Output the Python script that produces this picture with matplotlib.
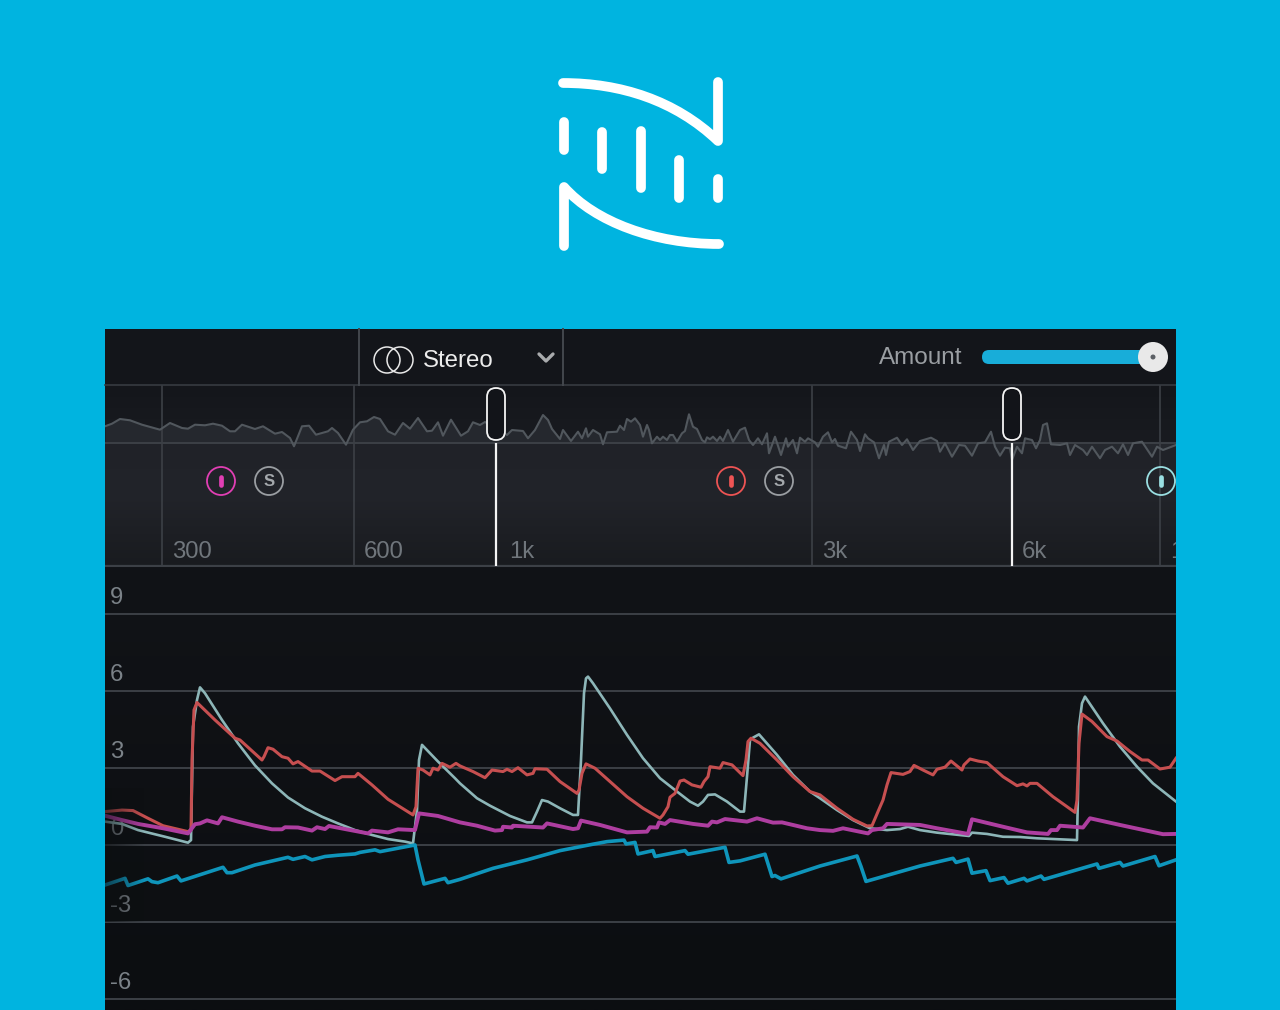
# Dynamic EQ style view: logo, band spectrum and gain reduction traces

import numpy as np
import matplotlib.pyplot as plt
from matplotlib.patches import Circle, FancyBboxPatch, PathPatch, Rectangle
from matplotlib.path import Path
from matplotlib.transforms import ScaledTranslation

# gain traces, t is time along the display
pale_t = [0, 17, 33, 60, 83, 86, 88, 92, 95, 100, 117, 133, 150, 167, 183, 200, 217, 233, 250, 267, 283, 300, 308, 312, 314, 317, 333, 350, 355,
          372, 385, 405, 422, 427, 432, 437, 443, 455, 468, 473, 476, 479, 481, 483, 488, 505, 522, 538, 555, 572, 585, 593, 598, 603, 610, 622, 635, 639, 642, 645, 648, 654, 672, 688, 705, 715,
          732, 748, 765, 782, 795, 803, 815, 832, 864, 867, 882, 898, 915, 932, 972, 973, 974, 977, 980, 998, 1015, 1032, 1048, 1071]
pale_db = [0.91, 0.82, 0.58, 0.32, 0.09, 0.19, 4.61, 5.65, 6.14, 5.91, 4.87, 3.96, 3.10, 2.40, 1.85, 1.43, 1.10, 0.84, 0.58, 0.39, 0.23, 0.13, 0.06, 1.36, 3.31, 3.90, 3.25, 2.60, 2.40,
           1.82, 1.53, 1.13, 0.88, 0.88, 1.30, 1.75, 1.69, 1.43, 1.17, 1.17, 3.31, 5.91, 6.49, 6.56, 6.30, 5.32, 4.29, 3.38, 2.60, 2.08, 1.69, 1.53, 1.69, 1.95, 1.97, 1.69, 1.30, 1.30, 2.66, 4.09, 4.18, 4.31, 3.51, 2.73, 2.08, 1.82,
           1.36, 0.97, 0.65, 0.58, 0.62, 0.71, 0.58, 0.48, 0.35, 0.48, 0.43, 0.32, 0.31, 0.26, 0.19, 2.01, 4.61, 5.52, 5.78, 4.74, 3.83, 3.05, 2.40, 1.69]

red_t = [0, 17, 28, 43, 58, 83, 86, 87, 89, 92, 110, 130, 135, 157, 159, 163, 168, 177, 183, 188, 193, 207, 215, 230, 237, 250, 253, 267, 283, 308, 311, 313, 318, 325, 328, 333, 337, 345, 351,
         355, 368, 380, 387, 398, 402, 407, 413, 422, 428, 430, 442, 455, 472, 474, 477, 481, 490, 505, 522, 538, 555, 558, 563, 565, 570, 575, 579, 587, 596, 599, 603, 605, 615, 618, 627, 638, 641, 643, 646, 655, 672, 688, 705,
         715, 732, 748, 762, 767, 773, 778, 782, 786, 798, 805, 809, 818, 828, 832, 840, 846, 857, 859, 865, 873, 882, 898, 912, 918, 922, 925, 932, 948, 970, 972, 974, 977, 987, 1002, 1012, 1025, 1037, 1043, 1055, 1065, 1071]
red_db = [1.30, 1.36, 1.34, 1.04, 0.75, 0.52, 0.58, 3.31, 5.26, 5.55, 4.87, 4.16, 4.09, 3.31, 3.44, 3.79, 3.73, 3.44, 3.38, 3.16, 3.25, 2.88, 2.88, 2.51, 2.66, 2.66, 2.79, 2.34, 1.78, 1.17, 1.49, 2.99, 2.92, 2.73, 2.99, 2.92, 3.18, 3.03, 3.18,
          3.08, 2.86, 2.62, 2.92, 2.86, 2.95, 2.86, 3.01, 2.73, 2.79, 2.97, 2.95, 2.47, 2.01, 2.14, 2.79, 3.16, 2.99, 2.47, 1.88, 1.43, 1.04, 1.17, 1.49, 1.86, 2.01, 2.49, 2.53, 2.34, 2.25, 2.47, 2.66, 3.05, 2.99, 3.21, 3.12, 2.70, 3.31, 4.03, 4.16, 3.96, 3.31, 2.66, 2.08,
          1.95, 1.43, 1.00, 0.74, 0.75, 1.30, 1.75, 2.34, 2.82, 2.75, 2.86, 3.10, 2.92, 2.73, 2.95, 3.03, 3.27, 2.92, 3.12, 3.35, 3.27, 3.21, 2.66, 2.31, 2.38, 2.30, 2.40, 2.40, 1.88, 1.27, 1.75, 3.96, 5.10, 4.81, 4.22, 4.05, 3.64, 3.31, 3.31, 2.96, 3.03, 3.38]

magenta_t = [0, 17, 33, 58, 83, 90, 95, 102, 113, 117, 133, 150, 167, 177, 180, 193, 207, 212, 220, 224, 240, 263, 267, 283, 293, 310, 314, 333,
             355, 372, 390, 397, 398, 407, 408, 438, 442, 468, 473, 476, 495, 522, 542, 545, 552, 554, 560, 565, 588, 603, 607, 612, 620, 642, 652, 668, 677, 702,
             715, 728, 738, 763, 767, 778, 782, 815, 832, 863, 867, 898, 922, 943, 946, 952, 955, 978, 985, 1015, 1058, 1071]
magenta_db = [1.14, 0.97, 0.82, 0.65, 0.45, 0.81, 0.84, 0.96, 0.84, 1.08, 0.91, 0.75, 0.61, 0.61, 0.69, 0.68, 0.56, 0.69, 0.62, 0.74, 0.62, 0.45, 0.56, 0.49, 0.61, 0.58, 1.23, 1.13,
              0.88, 0.75, 0.56, 0.58, 0.71, 0.68, 0.75, 0.68, 0.84, 0.62, 0.65, 0.95, 0.78, 0.49, 0.52, 0.69, 0.68, 0.88, 0.82, 0.97, 0.82, 0.75, 0.91, 0.88, 1.01, 0.91, 1.04, 0.87, 0.88, 0.65,
              0.58, 0.55, 0.65, 0.45, 0.58, 0.65, 0.82, 0.78, 0.65, 0.43, 1.00, 0.71, 0.49, 0.43, 0.58, 0.58, 0.75, 0.68, 1.04, 0.78, 0.42, 0.43]

blue_t = [0, 20, 23, 43, 47, 53, 72, 76, 118, 122, 127, 150, 183, 188, 200, 207, 220, 233, 250, 255, 270, 275, 310, 313, 319, 340, 343,
          355, 388, 422, 455, 488, 502, 519, 521, 530, 533, 548, 550, 580, 583, 620, 624, 635, 660, 667, 670, 676,
          715, 752, 756, 761, 815, 848, 851, 863, 867, 881, 885, 899, 903, 919, 922, 936, 939, 992, 994, 1015, 1018, 1050, 1054, 1071]
blue_db = [-1.56, -1.30, -1.58, -1.32, -1.43, -1.47, -1.21, -1.40, -0.87, -1.08, -1.08, -0.78, -0.48, -0.56, -0.45, -0.58, -0.45, -0.40, -0.35, -0.29, -0.19, -0.26, 0.00, -0.58, -1.52, -1.30, -1.47,
           -1.34, -0.91, -0.58, -0.22, 0.03, 0.13, 0.19, 0.04, 0.10, -0.35, -0.22, -0.45, -0.22, -0.36, -0.09, -0.68, -0.62, -0.36, -1.23, -1.19, -1.32,
           -0.82, -0.43, -0.84, -1.42, -0.82, -0.52, -0.68, -0.55, -1.10, -1.00, -1.39, -1.27, -1.49, -1.30, -1.40, -1.21, -1.34, -0.74, -0.91, -0.68, -0.82, -0.45, -0.81, -0.58]

# spectrum above the band strip
spec_t = [0, 7, 15, 25, 37, 55, 65, 77, 83, 90, 100, 108, 117, 125, 130, 137, 150, 158, 170, 177, 185, 189, 197, 204, 211, 223, 227, 233, 241, 248, 255, 262, 269, 275, 283, 290, 298, 305, 313, 322, 327, 333, 338, 346, 356, 363, 368,
          375, 380, 402, 407, 418, 423, 430, 438, 443, 447, 455, 458, 466, 473, 477, 481, 483, 488, 495, 498, 502, 512, 515, 519, 522, 526, 530, 535, 538, 542, 544, 547, 552, 555, 558, 562, 565, 568, 572, 577, 580, 584, 588, 592, 597, 600, 602, 605, 608, 612,
          615, 618, 623, 628, 635, 640, 644, 648, 653, 657, 662, 664, 670, 676, 681, 683, 688, 692, 695, 700, 703, 710, 713, 718, 723, 727, 730, 733, 741, 746, 752, 755, 760, 763, 769, 774, 779, 781, 784, 792, 797, 802, 808, 815, 826, 832, 835, 840, 847, 854,
          860, 867, 873, 880, 886, 890, 895, 900, 905, 907, 912, 917, 920, 927, 931, 935, 938, 942, 946, 955, 962, 965, 970, 978, 982, 987, 995, 1000, 1007, 1013, 1018, 1023, 1028, 1037, 1047, 1052, 1058, 1071]
spec_level = [16.7, 19.3, 24, 22.7, 18.3, 13.3, 20, 15, 14.3, 18.3, 17.7, 19.3, 17.3, 11.7, 11.7, 18.3, 14, 16.7, 9.3, 11, 5, -3.3, 16.7, 17.3, 8.3, 11.7, 15, 10, -1.7, 13.3, 20.7, 21.7, 26, 24, 11.7, 8.3, 20, 14.3, 25, 11.7, 12.3, 20.7, 7.3, 23.3, 7.3, 11.7, 20.7,
              18, 21, 8, 13, 12, 4.7, 13, 28, 23, 14, 4, 13, 2, 11.3, 4.7, 14.7, 6.3, 13, 8.7, -1.3, 10.7, 11.3, 17.3, 13, 24, 21.3, 24.7, 18, 6.3, 18, 13, -0.3, 6.3, 3, 6.3, 3, 8, 8, 1.3, 9.7, 12, 28.7, 16.3, 14, 3, 0.7, 5.7, 3.7, 6.3, 2,
              6.3, 2, 13, 1.3, 13, 15.3, 3, -2, 4.7, -1.3, 9.7, -10.3, 6.3, -12, 4.7, -3.7, 3, -10.3, 5.3, 1.3, 4.7, 0.7, -3.7, 6.3, 10.7, 0.7, 4, -2.7, -5.3, 11.3, 3, -8, 8.7, 4.7, 0.7, -15.3, -2, -12, 1.3, 5.3, -2, 3.7, -7, 2, 5.3, 2, -8.7, -0.3, -13.7, -2,
              -2.7, -12.7, -0.3, 0.7, 11.3, -3.7, -12.7, -4.7, -5.3, -17, -3.7, -10.3, 4.7, 3, -5.3, 3, 18, 19.7, -1.3, -2, -0.3, -12, -2, -7, -12, -3.7, -15.3, -7, -3.7, -10.3, -1.3, -12, -0.3, 1.3, -13.7, -3.7, -7, -2]

db_ticks = [9, 6, 3, 0, -3, -6]
db_labels = ['9', '6', '3', '0', '-3', '-6']
freq_ticks = [57, 249, 391, 707, 907, 1055]
freq_labels = ['300', '600', '1k', '3k', '6k', '10k']
freq_grid = [57, 249, 707, 1055]
crossovers = [391, 907]

font = 'Liberation Sans'
blue_bg = '#00b4e0'
rule = '#3c4046'

fig = plt.figure(figsize=(12.8, 10.1), dpi=100, facecolor=blue_bg)


def gradient(ax, stops, colors, extent):
    # vertical background, stops run from the top of the panel to the bottom
    pos = np.linspace(0, 1, 200)
    rgb = np.array([[int(c[i:i + 2], 16) / 255 for i in (1, 3, 5)] for c in colors])
    img = np.stack([np.interp(pos, stops, rgb[:, k]) for k in range(3)], axis=1)[:, None, :]
    ax.imshow(img, extent=extent, aspect='auto', origin='upper', zorder=0, interpolation='bilinear')


def shift_label(label, dx, dy):
    label.set_transform(label.get_transform() + ScaledTranslation(dx / 100, dy / 100, fig.dpi_scale_trans))


# main gain chart
ax = fig.add_axes([105 / 1280, 0, 1071 / 1280, 443 / 1010])
gradient(ax, [0, 1], ['#111317', '#0c0e11'], (0, 1071, -6.43, 10.83))
ax.set_xlim(0, 1071)
ax.set_ylim(-6.43, 10.83)
ax.set_xticks([])
ax.set_yticks(db_ticks)
ax.set_yticklabels(db_labels)
ax.tick_params(axis='y', length=0, pad=0, labelsize=17.2, labelcolor='#7b8288')
for s in ax.spines.values():
    s.set_visible(False)
for v in db_ticks:
    ax.axhline(v, color=rule, lw=1.4, zorder=1)
for label in ax.get_yticklabels():
    label.set_fontfamily(font)
    label.set_ha('left')
    label.set_va('center')
    shift_label(label, 5, 16)

ax.plot(pale_t, pale_db, color='#8db6b8', lw=1.9, zorder=2, solid_joinstyle='round')
ax.plot(red_t, red_db, color='#c64f50', lw=2.2, zorder=2, solid_joinstyle='round')
ax.plot(magenta_t, magenta_db, color='#ae3ea0', lw=2.8, zorder=2, solid_joinstyle='round')
ax.plot(blue_t, blue_db, color='#0f95bb', lw=2.6, zorder=2, solid_joinstyle='round')

# traces fade out towards the left edge
fade = np.zeros((1, 60, 4))
fade[0, :, :3] = [0.05, 0.06, 0.07]
fade[0, :, 3] = np.linspace(0.6, 0, 60)
ax.imshow(fade, extent=(0, 40, -3, 2.2), aspect='auto', zorder=2.2)
ax.set_xlim(0, 1071)
ax.set_ylim(-6.43, 10.83)

# spectrum strip
sp = fig.add_axes([105 / 1280, 443 / 1010, 1071 / 1280, 182 / 1010])
gradient(sp, [0, 0.31, 0.32, 0.6, 1], ['#14161b', '#191b20', '#202228', '#22242a', '#191b1f'], (0, 1071, -124, 58))
sp.set_xlim(0, 1071)
sp.set_ylim(-124, 58)
sp.set_yticks([])
sp.set_xticks(freq_ticks)
sp.set_xticklabels(freq_labels)
sp.tick_params(axis='x', length=0, pad=0, labelsize=17.2, labelcolor='#70767c')
for s in sp.spines.values():
    s.set_visible(False)
for label, dx in zip(sp.get_xticklabels(), [10, 10, 13, 10, 10, 10]):
    label.set_fontfamily(font)
    label.set_ha('left')
    label.set_va('center')
    shift_label(label, dx, 15)
sp.axhline(0, color=rule, lw=1.4, zorder=1)
sp.axhline(-123, color=rule, lw=1.6, zorder=1)
for x in freq_grid:
    sp.axvline(x, color=rule, lw=1.2, zorder=1)
sp.fill_between(spec_t, spec_level, 0, color='#25282e', lw=0, zorder=0.8)
sp.plot(spec_t, spec_level, color='#51575d', lw=1.5, zorder=2)
sp.vlines(crossovers, -123, 0, color='#f4f4f4', lw=1.6, zorder=3)

# everything that is not data: logo, toolbar, handles, buttons
ui = fig.add_axes([0, 0, 1, 1], zorder=5)
ui.set_xlim(0, 1280)
ui.set_ylim(1010, 0)
ui.axis('off')
ui.patch.set_visible(False)

logo_lw = 7
for verts, codes in [
    ([(563, 83), (620, 83), (675, 100), (718, 141), (718, 82)],
     [Path.MOVETO, Path.CURVE4, Path.CURVE4, Path.CURVE4, Path.LINETO]),
    ([(564, 246), (564, 187), (595, 222), (655, 244), (719, 244)],
     [Path.MOVETO, Path.LINETO, Path.CURVE4, Path.CURVE4, Path.CURVE4]),
]:
    ui.add_patch(PathPatch(Path(verts, codes), fc='none', ec='white', lw=logo_lw, capstyle='round', joinstyle='round'))
for x, y0, y1 in [(564, 122, 150), (602, 131.5, 169), (641, 131, 188), (679, 160, 198), (718, 179, 198)]:
    ui.plot([x, x], [y0, y1], color='white', lw=logo_lw, solid_capstyle='round')

# side strip hides the clipped label past the panel edge
ui.add_patch(Rectangle((1176, 329), 104, 681, fc=blue_bg, ec='none', zorder=4))

# toolbar
ui.add_patch(Rectangle((105, 329), 1071, 56, fc='#13151a', ec='none', zorder=0.5))
ui.plot([105, 1176], [385, 385], color='#373b41', lw=1.2)
ui.plot([359, 359], [329, 385], color='#43474d', lw=1.4)
ui.plot([563, 563], [329, 385], color='#43474d', lw=1.4)
ui.add_patch(Circle((387, 360), 13, fc='none', ec='#e8e8e8', lw=1.1))
ui.add_patch(Circle((400, 360), 13, fc='none', ec='#e8e8e8', lw=1.1))
ui.text(423, 361, 'Stereo', family=font, fontsize=17.3, color='#ececec', va='center', ha='left')
ui.plot([539, 546, 553], [354, 361, 354], color='#a9abad', lw=2.4, solid_capstyle='round', solid_joinstyle='round')
ui.text(879, 358, 'Amount', family=font, fontsize=17.5, color='#9a9ea2', va='center', ha='left')
ui.add_patch(FancyBboxPatch((982, 350), 170, 14, boxstyle='round,pad=0,rounding_size=7', fc='#18add9', ec='none'))
ui.add_patch(Circle((1153, 357), 15, fc='#e9e9e9', ec='none'))
ui.add_patch(Circle((1153, 357), 2.5, fc='#5c6065', ec='none'))

# crossover handles
for x in crossovers:
    ui.add_patch(FancyBboxPatch((x + 105 - 9, 388), 18, 52, boxstyle='round,pad=0,rounding_size=9',
                                fc='#121419', ec='#f4f4f4', lw=1.3, zorder=3))

# band buttons
for x, col in [(221, '#e13fb4'), (731, '#ee5454'), (1161, '#9adfe2')]:
    ui.add_patch(Circle((x, 481), 14, fc='none', ec=col, lw=1.3, zorder=5))
    ui.plot([x, x], [477, 485], color=col, lw=3.4, solid_capstyle='round', zorder=5)
for x in [269, 779]:
    ui.add_patch(Circle((x, 481), 14, fc='none', ec='#9a9ea2', lw=1.3))
    ui.text(x, 482, 'S', family=font, fontsize=12, fontweight='bold', color='#a4a8ac', ha='center', va='center')

fig.savefig('out.png', dpi=100, facecolor=blue_bg)
